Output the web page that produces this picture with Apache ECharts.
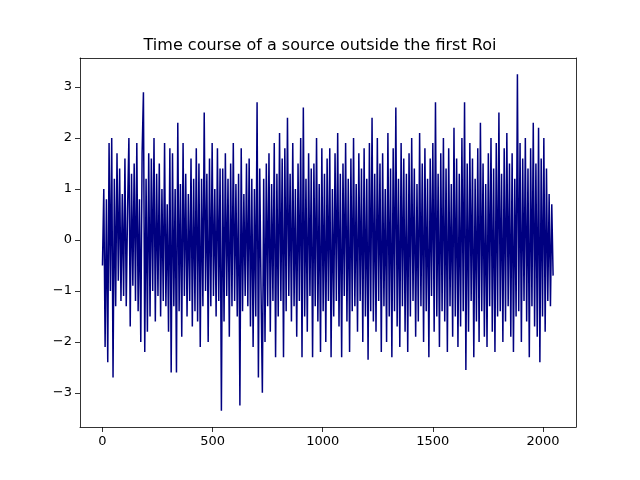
<!DOCTYPE html>
<html><head><meta charset="utf-8">
<script src="https://cdn.jsdelivr.net/npm/echarts@6/dist/echarts.min.js"></script>
<style>body{margin:0}#c{width:640px;height:480px}</style></head>
<body><div id="c"></div>
<script>
const titleText = "Time course of a source outside the first Roi";
const sampleStep = 6;
const xTicks = [0,500,1000,1500,2000];
const yTicks = [-3,-2,-1,0,1,2,3];
const values = [
-0.5,1.0,-2.1,0.8,-2.4,1.9,-1.0,2.0,-2.7,1.2,
-1.3,1.7,-0.8,1.4,-1.2,0.9,-1.1,1.6,-1.3,0.6,
2.0,-1.7,1.3,-0.9,1.5,-1.2,1.9,-1.4,0.8,-2.0,
1.7,2.9,-2.2,1.2,-1.8,1.7,-1.5,1.6,-1.0,2.0,
-1.6,1.3,-1.1,1.5,-1.5,1.0,-1.2,1.9,-1.3,0.7,
-1.8,1.8,-2.6,1.7,-1.3,1.0,-2.6,2.3,-1.4,1.1,
-1.9,1.9,-1.1,1.3,-1.5,0.9,-1.2,1.6,-1.7,1.2,
-1.4,1.8,-1.6,1.5,-2.1,1.2,-1.3,2.5,-1.0,1.3,
-2.0,1.6,-1.3,1.9,-1.1,1.0,-1.5,1.8,-1.2,1.4,
-3.35,1.4,-1.6,1.7,-1.1,1.2,-1.9,1.5,-1.3,1.9,
-1.2,1.1,-1.5,1.3,-3.25,1.8,-1.4,0.9,-1.1,1.5,
-1.3,1.6,-1.7,1.2,-2.1,1.0,-1.5,2.7,-2.7,1.4,
-1.0,-3.0,1.2,-2.0,1.5,-1.3,1.7,-1.8,1.1,-1.2,
1.9,-2.3,1.3,-1.5,2.1,-1.2,1.6,-2.3,1.8,-1.4,
2.4,-1.1,1.3,-1.6,1.9,-1.3,1.0,-1.9,1.5,-1.2,
2.0,-2.3,2.6,-1.5,1.2,-1.8,1.7,-1.1,1.4,-2.3,
1.5,-1.3,2.0,-1.6,1.1,-2.2,1.8,-1.4,1.3,-2.0,
1.6,-1.2,1.8,-2.3,1.0,-1.5,1.7,-1.2,2.1,-1.7,
1.3,-2.3,1.5,-1.1,1.9,-1.6,1.2,-2.2,1.6,-1.4,
2.0,-1.3,1.1,-1.8,1.7,-1.2,1.4,-2.0,1.8,-1.5,
1.2,-2.35,1.9,-1.4,2.4,-1.6,1.3,-1.8,2.0,-1.2,
1.5,-2.2,1.7,-1.3,1.0,-2.0,2.1,-1.5,1.4,-2.3,
1.8,-1.4,2.6,-1.7,1.2,-2.1,1.9,-1.3,1.6,-1.8,
1.3,-2.2,1.7,-1.5,2.0,-1.2,1.4,-1.9,1.1,-1.6,
2.1,-1.3,1.5,-2.0,1.8,-1.4,1.2,-2.3,1.6,-1.1,
1.9,-1.8,2.7,-1.5,1.3,-2.1,1.7,-1.4,2.0,-1.6,
1.4,-2.2,1.8,-1.3,1.1,-1.9,2.2,-1.5,1.6,-2.1,
1.3,-1.7,2.0,-1.4,2.7,-2.55,1.5,-1.8,1.9,-1.2,
1.6,-2.3,1.2,-1.6,1.8,-2.0,2.3,-1.4,1.5,-1.9,
1.1,-2.1,1.7,-1.3,2.0,-1.8,1.4,-2.2,1.9,-1.5,
2.5,-1.4,1.3,-2.0,1.8,-1.6,2.1,-1.3,1.5,-1.9,
1.7,-2.2,1.2,-1.5,3.25,-1.4,1.9,-2.0,1.6,-1.2,
2.0,-1.6,1.4,-2.3,1.8,-1.3,2.3,-1.7,1.5,-1.9,
2.2,-2.4,1.6,-1.5,2.0,-1.8,1.4,-1.2,0.9,-1.3,
0.7,-0.7
];
const data = values.map((v,i)=>[i*sampleStep, v]);
const chart = echarts.init(document.getElementById('c'));
const line = {show:true,onZero:false,lineStyle:{color:'#000',width:0.8}};
const font = {color:'#000',fontSize:13,fontFamily:'DejaVu Sans'};
function mk(type, min, max, ticks, pos, show, fmt){
  return {type:'value',min:min,max:max,position:pos,axisLine:line,splitLine:{show:false},
    axisTick:{show:show,length:5,lineStyle:{color:'#000',width:0.8},customValues:ticks},
    axisLabel:Object.assign({show:show,customValues:ticks,formatter:fmt},font)};
}
const fmt = v=>String(v).replace('-','\u2212');
chart.setOption({
  animation:false,
  title:{text:titleText,left:'center',top:33,textStyle:{fontFamily:'DejaVu Sans',fontSize:16,fontWeight:'normal',color:'#000'}},
  grid:{left:80,right:64,top:58,bottom:53},
  xAxis:[mk('value',-102,2150,xTicks,'bottom',true,fmt), mk('value',-102,2150,xTicks,'top',false,fmt)],
  yAxis:[mk('value',-3.67,3.57,yTicks,'left',true,fmt), mk('value',-3.67,3.57,yTicks,'right',false,fmt)],
  series:[{type:'line',data:data,showSymbol:false,lineStyle:{color:'#000080',width:1.5}}]
});
</script></body></html>
